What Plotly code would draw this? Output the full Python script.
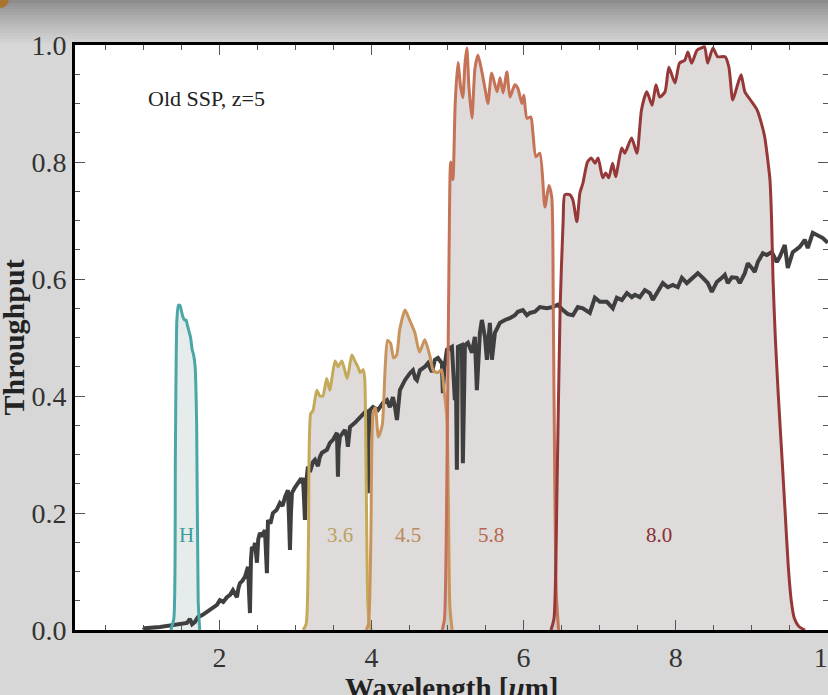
import plotly.graph_objects as go

# ---------------- data ----------------
spec_x = [1.000, 1.020, 1.218, 1.389, 1.500, 1.573, 1.612, 1.640, 1.678, 1.717, 1.780, 1.836, 1.900,
          1.967, 2.006, 2.050, 2.098, 2.140, 2.177, 2.200, 2.230, 2.250, 2.269, 2.300, 2.335, 2.375,
          2.390, 2.401, 2.414, 2.427, 2.450, 2.467, 2.493, 2.510, 2.532, 2.560, 2.598, 2.612, 2.624,
          2.638, 2.670, 2.703, 2.750, 2.795, 2.830, 2.861, 2.900, 2.915, 2.927, 2.940, 2.953, 2.990,
          3.019, 3.058, 3.080, 3.098, 3.110, 3.124, 3.140, 3.163, 3.190, 3.229, 3.256, 3.295, 3.320,
          3.348, 3.413, 3.453, 3.492, 3.545, 3.552, 3.558, 3.566, 3.584, 3.650, 3.675, 3.689, 3.716,
          3.781, 3.847, 3.887, 3.939, 3.945, 3.952, 3.960, 3.979, 4.018, 4.084, 4.150, 4.202, 4.241,
          4.281, 4.310, 4.334, 4.373, 4.439, 4.505, 4.544, 4.575, 4.597, 4.636, 4.702, 4.741, 4.794,
          4.833, 4.873, 4.925, 4.938, 4.960, 4.991, 5.057, 5.080, 5.096, 5.110, 5.122, 5.136, 5.188,
          5.201, 5.228, 5.267, 5.320, 5.359, 5.385, 5.425, 5.451, 5.491, 5.517, 5.556, 5.583, 5.622,
          5.688, 5.754, 5.819, 5.885, 5.924, 5.990, 6.043, 6.082, 6.148, 6.214, 6.306, 6.385, 6.450,
          6.516, 6.582, 6.648, 6.713, 6.779, 6.871, 6.937, 7.003, 7.095, 7.173, 7.226, 7.292, 7.358,
          7.423, 7.463, 7.528, 7.594, 7.660, 7.699, 7.752, 7.831, 7.897, 7.962, 8.028, 8.081, 8.147,
          8.186, 8.252, 8.291, 8.357, 8.423, 8.475, 8.541, 8.607, 8.646, 8.685, 8.738, 8.804, 8.843,
          8.909, 8.948, 9.001, 9.040, 9.080, 9.146, 9.198, 9.264, 9.330, 9.369, 9.435, 9.474, 9.540,
          9.632, 9.698, 9.737, 9.803, 9.869, 9.935, 10.000]
spec_y = [0.000, 0.003, 0.005, 0.009, 0.010, 0.012, 0.019, 0.010, 0.014, 0.022, 0.026, 0.031, 0.036,
          0.043, 0.051, 0.048, 0.056, 0.060, 0.068, 0.062, 0.056, 0.072, 0.080, 0.084, 0.091, 0.108,
          0.060, 0.029, 0.120, 0.142, 0.138, 0.149, 0.115, 0.155, 0.166, 0.160, 0.171, 0.140, 0.097,
          0.188, 0.182, 0.200, 0.205, 0.217, 0.212, 0.227, 0.239, 0.190, 0.137, 0.200, 0.234, 0.243,
          0.248, 0.256, 0.252, 0.260, 0.230, 0.188, 0.250, 0.279, 0.270, 0.287, 0.291, 0.280, 0.296,
          0.303, 0.308, 0.320, 0.325, 0.337, 0.300, 0.262, 0.310, 0.330, 0.342, 0.330, 0.313, 0.347,
          0.354, 0.364, 0.368, 0.376, 0.300, 0.234, 0.320, 0.376, 0.381, 0.376, 0.388, 0.393, 0.381,
          0.398, 0.380, 0.359, 0.410, 0.427, 0.439, 0.444, 0.430, 0.427, 0.444, 0.450, 0.456, 0.441,
          0.462, 0.465, 0.456, 0.405, 0.450, 0.479, 0.484, 0.440, 0.393, 0.430, 0.274, 0.484, 0.487,
          0.285, 0.487, 0.491, 0.474, 0.501, 0.410, 0.508, 0.530, 0.501, 0.462, 0.525, 0.462, 0.508,
          0.525, 0.530, 0.533, 0.538, 0.544, 0.547, 0.538, 0.542, 0.544, 0.552, 0.550, 0.552, 0.556,
          0.547, 0.540, 0.538, 0.552, 0.550, 0.542, 0.568, 0.561, 0.561, 0.550, 0.568, 0.564, 0.576,
          0.569, 0.573, 0.569, 0.581, 0.576, 0.564, 0.576, 0.593, 0.586, 0.590, 0.586, 0.602, 0.593,
          0.598, 0.607, 0.610, 0.602, 0.593, 0.578, 0.595, 0.602, 0.607, 0.593, 0.603, 0.602, 0.593,
          0.610, 0.627, 0.619, 0.612, 0.629, 0.644, 0.641, 0.646, 0.629, 0.638, 0.658, 0.619, 0.646,
          0.655, 0.667, 0.653, 0.679, 0.675, 0.670, 0.662]

h_x = [1.36, 1.40, 1.42, 1.44, 1.46, 1.48, 1.50, 1.52, 1.54, 1.56, 1.58, 1.60, 1.62, 1.64, 1.66,
       1.68, 1.70, 1.72, 1.74]
h_y = [0.0, 0.02, 0.30, 0.53, 0.555, 0.555, 0.545, 0.535, 0.53, 0.53, 0.52, 0.51, 0.50, 0.48, 0.47,
       0.45, 0.35, 0.05, 0.0]

i36_x = [3.10, 3.14, 3.17, 3.20, 3.23, 3.28, 3.32, 3.36, 3.41, 3.45, 3.52, 3.56, 3.61, 3.68, 3.74,
         3.78, 3.82, 3.85, 3.89, 3.91, 3.93, 3.95, 3.97, 4.00]
i36_y = [0.0, 0.01, 0.15, 0.37, 0.375, 0.41, 0.40, 0.40, 0.43, 0.41, 0.46, 0.45, 0.46, 0.43, 0.47,
         0.46, 0.45, 0.44, 0.445, 0.43, 0.25, 0.05, 0.01, 0.0]

i45_x = [3.93, 3.96, 3.99, 4.02, 4.05, 4.09, 4.14, 4.18, 4.21, 4.25, 4.29, 4.33, 4.37, 4.44, 4.50,
         4.57, 4.63, 4.70, 4.77, 4.81, 4.87, 4.92, 4.95, 4.99, 5.01, 5.03, 5.06]
i45_y = [0.0, 0.01, 0.15, 0.37, 0.38, 0.33, 0.35, 0.45, 0.495, 0.49, 0.465, 0.47, 0.513, 0.547, 0.53,
         0.508, 0.475, 0.496, 0.467, 0.444, 0.44, 0.445, 0.415, 0.364, 0.22, 0.04, 0.0]

i58_x = [4.93, 4.96, 4.99, 5.02, 5.04, 5.07, 5.10, 5.136, 5.17, 5.20, 5.23, 5.254, 5.28, 5.32, 5.36,
         5.40, 5.45, 5.50, 5.53, 5.58, 5.65, 5.69, 5.73, 5.78, 5.82, 5.885, 5.924, 5.977, 6.003,
         6.043, 6.095, 6.122, 6.161, 6.214, 6.28, 6.332, 6.37, 6.39, 6.41, 6.43, 6.46]
i58_y = [0.0, 0.02, 0.25, 0.65, 0.80, 0.77, 0.90, 0.97, 0.93, 0.91, 0.97, 0.995, 0.93, 0.875, 0.96,
         0.983, 0.955, 0.92, 0.90, 0.952, 0.92, 0.944, 0.918, 0.954, 0.911, 0.932, 0.926, 0.90, 0.914,
         0.875, 0.877, 0.85, 0.809, 0.815, 0.723, 0.76, 0.74, 0.55, 0.25, 0.06, 0.0]

i80_x = [6.36, 6.40, 6.44, 6.48, 6.52, 6.542, 6.608, 6.648, 6.70, 6.74, 6.78, 6.84, 6.89, 6.94, 6.98,
         7.04, 7.08, 7.12, 7.17, 7.21, 7.29, 7.33, 7.42, 7.49, 7.55, 7.62, 7.69, 7.74, 7.79, 7.86,
         7.91, 7.99, 8.05, 8.12, 8.16, 8.21, 8.28, 8.34, 8.38, 8.42, 8.49, 8.55, 8.65, 8.70, 8.75,
         8.80, 8.86, 8.91, 9.00, 9.07, 9.14, 9.17, 9.20, 9.24, 9.26, 9.28, 9.31, 9.35, 9.40, 9.44,
         9.48, 9.52, 9.56, 9.62, 9.70]
i80_y = [0.0, 0.02, 0.25, 0.55, 0.70, 0.744, 0.744, 0.735, 0.698, 0.747, 0.764, 0.80, 0.807, 0.798,
         0.807, 0.773, 0.781, 0.773, 0.798, 0.775, 0.824, 0.815, 0.841, 0.815, 0.889, 0.92, 0.897,
         0.932, 0.911, 0.92, 0.962, 0.935, 0.969, 0.974, 0.988, 0.969, 0.991, 0.995, 0.997, 0.969,
         0.995, 0.98, 0.98, 0.962, 0.906, 0.926, 0.949, 0.92, 0.903, 0.889, 0.86, 0.843, 0.815,
         0.769, 0.706, 0.60, 0.50, 0.40, 0.29, 0.20, 0.11, 0.05, 0.02, 0.006, 0.0]

x_ticks = [2, 4, 6, 8, 10]
x_tick_text = ["2", "4", "6", "8", "10"]

filters = [
    ("H", h_x, h_y, "#4ba6a6", "rgba(205,218,218,0.5)", 1.56),
    ("3.6", i36_x, i36_y, "#c4aa58", "rgba(195,190,188,0.55)", 3.59),
    ("4.5", i45_x, i45_y, "#c8945c", "rgba(195,190,188,0.55)", 4.48),
    ("5.8", i58_x, i58_y, "#c67256", "rgba(195,190,188,0.55)", 5.57),
    ("8.0", i80_x, i80_y, "#963838", "rgba(195,190,188,0.55)", 7.78),
]
label_y = 0.162
label_colors = {"H": "#3f9d9d", "3.6": "#b9a35e", "4.5": "#bb8a5c", "5.8": "#b8664e", "8.0": "#8a2f33"}

SERIF = "Liberation Serif, Times New Roman, serif"

fig = go.Figure()

# fills
for name, xs, ys, lc, fc, lx in filters:
    fig.add_trace(go.Scatter(x=xs, y=ys, mode="lines", fill="tozeroy", fillcolor=fc,
                             line=dict(width=0, color=lc), hoverinfo="skip", showlegend=False))

# spectrum
fig.add_trace(go.Scatter(x=spec_x, y=spec_y, mode="lines",
                         line=dict(color="#3f3f3f", width=4), showlegend=False))

# filter outlines
for name, xs, ys, lc, fc, lx in filters:
    fig.add_trace(go.Scatter(x=xs, y=ys, mode="lines",
                             line=dict(color=lc, width=3, shape="spline", smoothing=0.6),
                             showlegend=False))

annotations = []
for name, xs, ys, lc, fc, lx in filters:
    annotations.append(dict(x=lx, y=label_y, xref="x", yref="y", text=name, showarrow=False,
                            font=dict(family=SERIF, size=21, color=label_colors[name])))
annotations.append(dict(x=1.83, y=0.909, xref="x", yref="y", text="Old SSP, z=5", showarrow=False,
                        font=dict(family=SERIF, size=22, color="#222222")))
annotations.append(dict(x=0.5, y=-0.099, xref="paper", yref="paper",
                        text="<b>Wavelength [<i>μ</i>m]</b>", showarrow=False, yanchor="middle",
                        font=dict(family=SERIF, size=29, color="#222222")))
annotations.append(dict(x=-0.0823, y=0.5, xref="paper", yref="paper", text="<b>Throughput</b>",
                        textangle=-90, showarrow=False, xanchor="center", yanchor="middle",
                        font=dict(family=SERIF, size=30, color="#222222")))

# background shadow strips at the top of the page (styling)
shapes = []
nstrip = 15
for k in range(nstrip):
    p0 = k * 3
    p1 = p0 + 3
    t = k / (nstrip - 1)
    c = int(140 + (213 - 140) * (t ** 0.8))
    shapes.append(dict(type="rect", xref="paper", yref="paper", x0=-0.11, x1=1.01,
                       y0=(630 - p1) / 585, y1=(630 - p0) / 585, line=dict(width=0),
                       fillcolor=f"rgb({c},{c},{c})", layer="below"))
shapes.append(dict(type="circle", xref="paper", yref="paper", x0=-0.112, x1=-0.088,
                   y0=(630 - 8) / 585, y1=(630 + 8) / 585, line=dict(width=0),
                   fillcolor="#a8742e", layer="below"))

axis_common = dict(showline=True, linewidth=3, linecolor="black", mirror="ticks",
                   ticks="inside", ticklen=10, tickwidth=1, tickcolor="#555555",
                   showgrid=False, zeroline=False, ticklabeloverflow="allow", automargin=False,
                   tickfont=dict(family=SERIF, size=28, color="#333333"))

fig.update_layout(
    width=828, height=695,
    margin=dict(l=75, r=0, t=45, b=65, autoexpand=False),
    paper_bgcolor="#d7d7d7", plot_bgcolor="white",
    xaxis=dict(range=[0.1, 10.003], tickmode="array", tickvals=x_ticks, ticktext=x_tick_text,
               minor=dict(ticks="inside", ticklen=5, dtick=0.5, tick0=0, tickcolor="#555555",
                          showgrid=False),
               **axis_common),
    yaxis=dict(range=[0, 1], tick0=0, dtick=0.2, tickformat=".1f",
               minor=dict(ticks="inside", ticklen=5, dtick=0.05, tickcolor="#555555", showgrid=False),
               **axis_common),
    annotations=annotations, shapes=shapes, showlegend=False,
)

fig.write_html("out.html")
